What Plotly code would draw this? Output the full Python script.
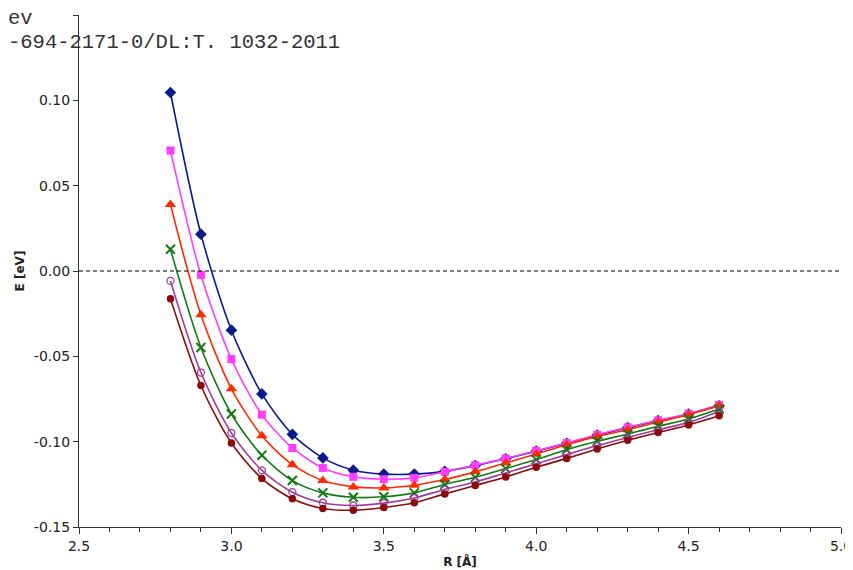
import plotly.graph_objects as go

R = [2.8, 2.9, 3.0, 3.1, 3.2, 3.3, 3.4, 3.5, 3.6, 3.7, 3.8, 3.9, 4.0, 4.1, 4.2, 4.3, 4.4, 4.5, 4.6]

E_blue = [0.1046, 0.0216, -0.0347, -0.0720, -0.0957, -0.1095, -0.1167, -0.1190, -0.1190, -0.1174,
          -0.1140, -0.1100, -0.1056, -0.1010, -0.0962, -0.0918, -0.0877, -0.0838, -0.0790]
E_pink = [0.0706, -0.0023, -0.0516, -0.0842, -0.1037, -0.1154, -0.1206, -0.1220, -0.1212, -0.1177,
          -0.1138, -0.1098, -0.1053, -0.1008, -0.0959, -0.0916, -0.0875, -0.0836, -0.0784]
E_red = [0.0390, -0.0257, -0.0690, -0.0965, -0.1135, -0.1228, -0.1265, -0.1271, -0.1255, -0.1222,
         -0.1177, -0.1125, -0.1072, -0.1018, -0.0969, -0.0930, -0.0885, -0.0842, -0.0790]
E_green = [0.0127, -0.0448, -0.0838, -0.1080, -0.1228, -0.1300, -0.1326, -0.1323, -0.1300, -0.1251,
           -0.1209, -0.1158, -0.1105, -0.1047, -0.0998, -0.0955, -0.0910, -0.0867, -0.0809]
E_purple = [-0.0058, -0.0595, -0.0949, -0.1168, -0.1296, -0.1358, -0.1374, -0.1360, -0.1330, -0.1280,
            -0.1236, -0.1183, -0.1130, -0.1076, -0.1023, -0.0975, -0.0930, -0.0887, -0.0823]
E_darkred = [-0.0162, -0.0671, -0.1008, -0.1216, -0.1335, -0.1392, -0.1402, -0.1386, -0.1358, -0.1306,
             -0.1257, -0.1207, -0.1150, -0.1098, -0.1043, -0.0992, -0.0946, -0.0902, -0.0848]

x_ticks = [2.5, 3.0, 3.5, 4.0, 4.5, 5.0]
x_ticklabels = ["2.5", "3.0", "3.5", "4.0", "4.5", "5.0"]
y_ticks = [-0.15, -0.10, -0.05, 0.00, 0.05, 0.10, 0.15]
y_ticklabels = ["-0.15", "-0.10", "-0.05", "0.00", "0.05", "0.10", "0.15"]

series = [
    (E_blue, "#0a1a8c", dict(symbol="diamond", size=9)),
    (E_pink, "#ff3dff", dict(symbol="square", size=8)),
    (E_red, "#ff2a00", dict(symbol="triangle-up", size=10)),
    (E_green, "#137a13", dict(symbol="x-thin", size=9, line=dict(width=2, color="#137a13"))),
    (E_purple, "#a03ca0", dict(symbol="circle-open", size=7, line=dict(width=1.3, color="#a03ca0"))),
    (E_darkred, "#8e0b0b", dict(symbol="circle", size=7.5)),
]

fig = go.Figure()
for ys, col, mk in series:
    mk = dict(mk)
    mk.setdefault("color", col)
    fig.add_trace(go.Scatter(x=R, y=ys, mode="lines+markers",
                             line=dict(color=col, width=1.6, shape="spline", smoothing=0.8),
                             marker=mk, showlegend=False))

fig.add_shape(type="line", xref="paper", yref="y", x0=0, x1=1, y0=0, y1=0,
              line=dict(color="black", width=1, dash="4px,3px"))

fig.add_annotation(text="ev", xref="paper", yref="paper", x=0, y=0.994, xshift=-73,
                   xanchor="left", yanchor="middle", showarrow=False,
                   font=dict(family="Liberation Mono", size=20.5, color="#333"))
fig.add_annotation(text="-694-2171-0/DL:T. 1032-2011", xref="paper", yref="paper", x=0, y=0.946,
                   xshift=-73, xanchor="left", yanchor="middle", showarrow=False,
                   font=dict(family="Liberation Mono", size=20.5, color="#333"))

fig.update_layout(
    width=845, height=562,
    margin=dict(l=71, r=12, t=6.5, b=42.5, autoexpand=False),
    plot_bgcolor="white", paper_bgcolor="white",
    font=dict(family="DejaVu Sans", size=14, color="#222"),
)
fig.update_xaxes(range=[2.5, 5.0], tickvals=x_ticks, ticktext=x_ticklabels, automargin=False,
                 showgrid=False, zeroline=False, showline=True, linecolor="#333", linewidth=1.2,
                 ticks="outside", ticklen=6, tickcolor="#333",
                 minor=dict(dtick=0.1, tick0=2.5, ticks="outside", ticklen=4, tickcolor="#333", showgrid=False),
                 tickfont=dict(size=14),
                 title=dict(text="<b>R [Å]</b>", font=dict(size=12), standoff=4))
fig.update_yaxes(range=[-0.15, 0.15], tickvals=y_ticks, ticktext=y_ticklabels, automargin=False,
                 showgrid=False, zeroline=False, showline=True, linecolor="#333", linewidth=1.2,
                 ticks="outside", ticklen=5, tickcolor="#333",
                 tickfont=dict(size=14),
                 title=dict(text="<b>E [eV]</b>", font=dict(size=12), standoff=6))

fig.write_html("out.html")
